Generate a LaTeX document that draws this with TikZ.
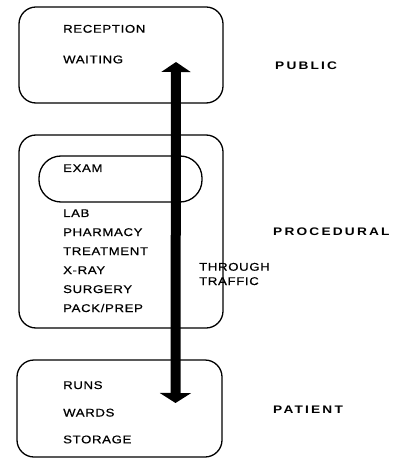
\documentclass[tikz,border=0pt]{standalone}
\usepackage{fontspec}
\setmainfont{Liberation Sans}
\newfontfamily\boxfont{Liberation Sans}[FakeStretch=1.18,LetterSpace=6,FakeBold=0.6]
\newfontfamily\zonefont{Liberation Sans}[FakeStretch=1.25,LetterSpace=20]
\usetikzlibrary{arrows.meta}
\begin{document}
\begin{tikzpicture}[x=1bp,y=-1bp,
  zone/.style={draw,line width=1.3bp,rounded corners=17bp,inner sep=0},
  item/.style={anchor=base west,inner sep=0,font=\boxfont\fontsize{11.2}{13}\selectfont},
  zonelabel/.style={anchor=base west,inner sep=0,font=\zonefont\bfseries\fontsize{11}{13}\selectfont},
  traffic/.style={line width=10bp,draw=black,
    {Triangle[width=29bp,length=10bp]}-{Triangle[width=31bp,length=10bp]}}]
\useasboundingbox (0,0) rectangle (405,461);
% zones
\node[zone,minimum width=204bp,minimum height=96bp] (public) at (121,55) {};
\node[zone,minimum width=204bp,minimum height=193bp] (procedural) at (121,231.5) {};
\node[zone,minimum width=163bp,minimum height=46bp,rounded corners=22bp] (exambox) at (120.5,179) {};
\node[zone,minimum width=205bp,minimum height=97bp] (patient) at (119.5,408.5) {};
% items
\node[item] (reception) at (63,32.7) {RECEPTION};
\node[item] (waiting) at (63,63.3) {WAITING};
\node[item] (exam) at (63,172) {EXAM};
\node[item] (lab) at (63,217) {LAB};
\node[item] (pharmacy) at (63,236) {PHARMACY};
\node[item] (treatment) at (63,255) {TREATMENT};
\node[item] (xray) at (63,274) {X-RAY};
\node[item] (surgery) at (63,293) {SURGERY};
\node[item] (packprep) at (63,312) {PACK/PREP};
\node[item] (runs) at (63,389) {RUNS};
\node[item] (wards) at (63,416.5) {WARDS};
\node[item] (storage) at (63,443.3) {STORAGE};
% zone labels
\node[zonelabel] (lpublic) at (275,69.5) {PUBLIC};
\node[zonelabel] (lprocedural) at (273,235) {PROCEDURAL};
\node[zonelabel] (lpatient) at (273,413) {PATIENT};
\node[item] (through) at (199,270.7) {THROUGH};
\node[item] (trafficlbl) at (199,285) {TRAFFIC};
% through-traffic arrow
\coordinate (toptip) at (176,62);
\coordinate (bottip) at (175.5,403);
\draw[traffic] (toptip) -- (bottip);
\end{tikzpicture}
\end{document}
